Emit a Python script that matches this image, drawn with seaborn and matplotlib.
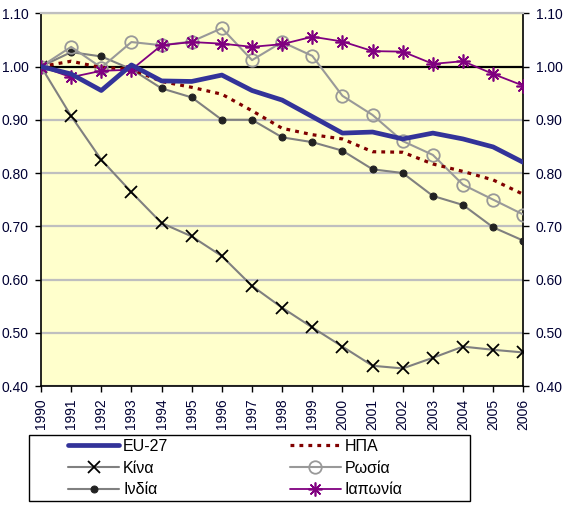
import matplotlib
matplotlib.use("Agg")
import matplotlib.pyplot as plt
from matplotlib.patches import Rectangle
import seaborn as sns
import numpy as np

years = list(range(1990, 2007))
eu27 = [1.000, 0.986, 0.955, 1.003, 0.973, 0.972, 0.984, 0.955, 0.937, 0.906, 0.875, 0.877, 0.864, 0.875, 0.864, 0.849, 0.820]
usa = [1.000, 1.010, 0.998, 0.995, 0.972, 0.961, 0.948, 0.917, 0.884, 0.872, 0.864, 0.840, 0.839, 0.817, 0.803, 0.787, 0.760]
china = [1.000, 0.907, 0.825, 0.764, 0.706, 0.681, 0.644, 0.588, 0.547, 0.510, 0.474, 0.438, 0.433, 0.453, 0.474, 0.468, 0.463]
russia = [1.000, 1.037, 0.998, 1.046, 1.040, 1.047, 1.072, 1.012, 1.046, 1.020, 0.945, 0.909, 0.860, 0.834, 0.778, 0.750, 0.722]
india = [1.000, 1.027, 1.019, 0.995, 0.959, 0.942, 0.900, 0.900, 0.867, 0.858, 0.842, 0.807, 0.800, 0.757, 0.740, 0.698, 0.673]
japan = [1.000, 0.980, 0.992, 0.994, 1.040, 1.046, 1.043, 1.037, 1.042, 1.056, 1.047, 1.029, 1.028, 1.005, 1.010, 0.986, 0.964]
yticks = [0.40, 0.50, 0.60, 0.70, 0.80, 0.90, 1.00, 1.10]

sns.set_style("white")
plt.rcParams['font.family'] = ['Liberation Sans', 'DejaVu Sans']

W, H = 568, 505
fig = plt.figure(figsize=(W/100, H/100), dpi=100)
ax = fig.add_axes([41/W, 1-386/H, (523.3-41)/W, (386-13.3)/H])
ax.set_facecolor('#FFFFCC')

for v in yticks:
    if abs(v - 1.0) > 1e-9:
        ax.axhline(v, color='#BFBFBF', lw=1.6, zorder=1)
ax.axhline(1.0, color='black', lw=1.6, zorder=1.5)

sns.lineplot(x=years, y=china, ax=ax, color='#808080', lw=1.5, marker='x',
             markersize=8, markeredgecolor='black', markeredgewidth=1.3, label='Κίνα', zorder=3)
sns.lineplot(x=years, y=india, ax=ax, color='#808080', lw=1.5, marker='o',
             markersize=5, markerfacecolor='#222222', markeredgecolor='#222222', label='Ινδία', zorder=3)
sns.lineplot(x=years, y=russia, ax=ax, color='#999999', lw=1.5, marker='o',
             markersize=9, markerfacecolor='none', markeredgecolor='#999999', markeredgewidth=1.3, label='Ρωσία', zorder=3)
sns.lineplot(x=years, y=usa, ax=ax, color='#800000', lw=2.3, linestyle=(0, (1.2, 1.6)), label='ΗΠΑ', zorder=4)
sns.lineplot(x=years, y=japan, ax=ax, color='#800080', lw=1.3, marker=(8, 2, 0),
             markersize=10, markeredgecolor='#800080', markeredgewidth=1.2, label='Ιαπωνία', zorder=4)
sns.lineplot(x=years, y=eu27, ax=ax, color='#333399', lw=3.4, label='EU-27', zorder=5)

if ax.get_legend() is not None:
    ax.get_legend().remove()

ax.set_xlim(1990, 2006)
ax.set_ylim(0.40, 1.10)
ax.set_xticks(years)
ax.set_xticklabels([str(y) for y in years], rotation=90)
ax.set_yticks(yticks)
ax.set_yticklabels([f"{v:.2f}" for v in yticks])
ax.set_xlabel('')
ax.set_ylabel('')

lab_color = '#000033'
ax.tick_params(axis='y', which='both', left=True, right=True, labelleft=True, labelright=True,
               direction='out', length=4, width=1, pad=5, labelsize=10, labelcolor=lab_color, color='black')
ax.tick_params(axis='x', bottom=True, direction='out', length=4, width=1, pad=5,
               labelsize=10, labelcolor=lab_color, color='black')

for s in ['left', 'right', 'bottom']:
    ax.spines[s].set_color('black')
    ax.spines[s].set_linewidth(1.2)
ax.spines['top'].set_color('#BFBFBF')
ax.spines['top'].set_linewidth(1.6)

# legend frame
fig.patches.append(Rectangle((29/W, 1-501/H), (470-29)/W, (501-435)/H,
                             transform=fig.transFigure, fill=False, edgecolor='black', lw=1.0))

h, l = ax.get_legend_handles_labels()
d = dict(zip(l, h))
order = ['EU-27', 'Κίνα', 'Ινδία', 'ΗΠΑ', 'Ρωσία', 'Ιαπωνία']
fs = 11.5
leg = fig.legend([d[k] for k in order], order, loc='upper left',
                 bbox_to_anchor=(68/W, 1-439/H),
                 ncol=2, fontsize=fs, frameon=False,
                 handlelength=3.2, borderaxespad=0, labelspacing=0.42,
                 handletextpad=0.25, borderpad=0, columnspacing=7.6)
for t in leg.get_texts():
    t.set_color('black')

fig.savefig('out.png', dpi=100, facecolor='white')
